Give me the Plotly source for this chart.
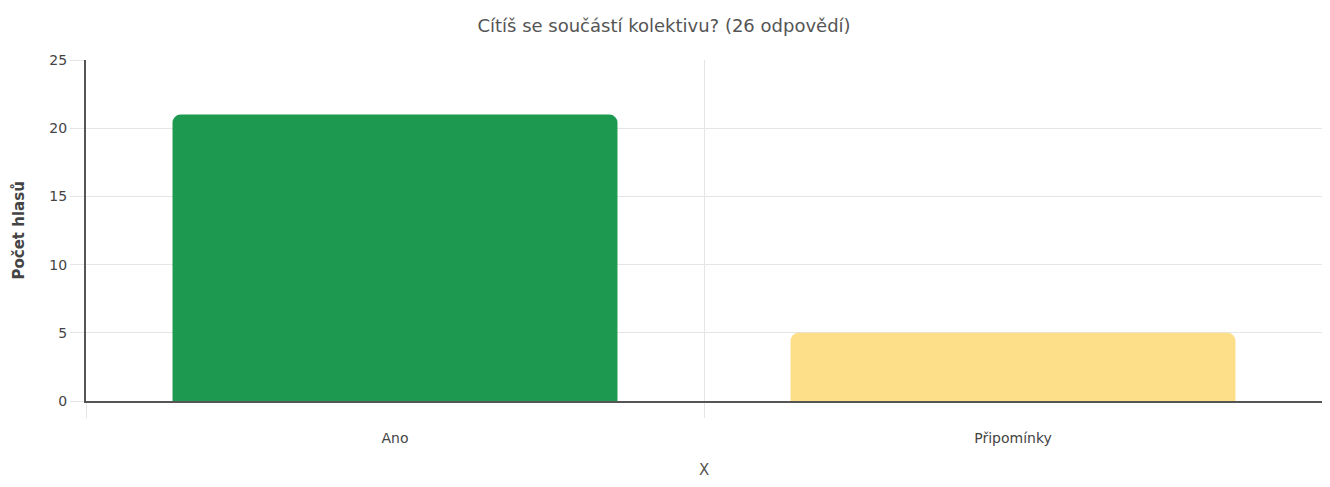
import plotly.graph_objects as go

categories = ["Ano", "Připomínky"]
values = [21, 5]
colors = ["#1e9a50", "#fddf8a"]
title_text = "Cítíš se součástí kolektivu? (26 odpovědí)"
y_title = "Počet hlasů"
x_title = "X"
y_ticks = [0, 5, 10, 15, 20, 25]

W, H = 1314, 471
L, R, T, B = 78, 0, 52, 78

fig = go.Figure(go.Bar(
    x=categories, y=values,
    marker=dict(color=colors, line=dict(width=0)),
    width=0.72,
    hoverinfo="x+y",
))

font_family = "DejaVu Sans, Liberation Sans, Arial, sans-serif"

fig.update_layout(
    width=W, height=H,
    margin=dict(l=L, r=R, t=T, b=B),
    paper_bgcolor="white", plot_bgcolor="white",
    barcornerradius=8,
    showlegend=False,
    title=dict(text=title_text, x=656 / W, xanchor="center",
               y=1 - 18 / H, yanchor="middle",
               font=dict(family=font_family, size=18, color="#555555")),
    font=dict(family=font_family, size=12, color="#444444"),
    annotations=[
        dict(
            text=y_title, textangle=-90, xref="paper", yref="paper",
            x=0, xshift=-(L - 10), y=0.5, xanchor="center", yanchor="middle",
            showarrow=False,
            font=dict(family=font_family, size=15, color="#444444", weight="bold"),
        ),
        dict(
            text=x_title, xref="paper", yref="paper",
            x=0.5, y=0, yshift=-69, xanchor="center", yanchor="middle",
            showarrow=False,
            font=dict(family=font_family, size=15, color="#555555"),
        ),
    ],
)

fig.update_xaxes(
    type="category",
    tickson="boundaries",
    ticks="outside", ticklen=15, tickcolor="#e5e5e5", tickwidth=1,
    showgrid=True, gridcolor="#e5e5e5", gridwidth=1,
    showline=True, linecolor="#555555", linewidth=2,
    ticklabelstandoff=23,
    tickfont=dict(size=14, color="#444444"),
    automargin=False,
    range=[-0.5, 1.5],
)

fig.update_yaxes(
    range=[0, 25], tickvals=y_ticks,
    ticks="outside", ticklen=14, tickcolor="#e5e5e5", tickwidth=1,
    showgrid=True, gridcolor="#e5e5e5", gridwidth=1,
    showline=True, linecolor="#555555", linewidth=2,
    zeroline=False,
    tickfont=dict(size=14, color="#444444"),
    automargin=False,
)

fig.write_html("out.html")
